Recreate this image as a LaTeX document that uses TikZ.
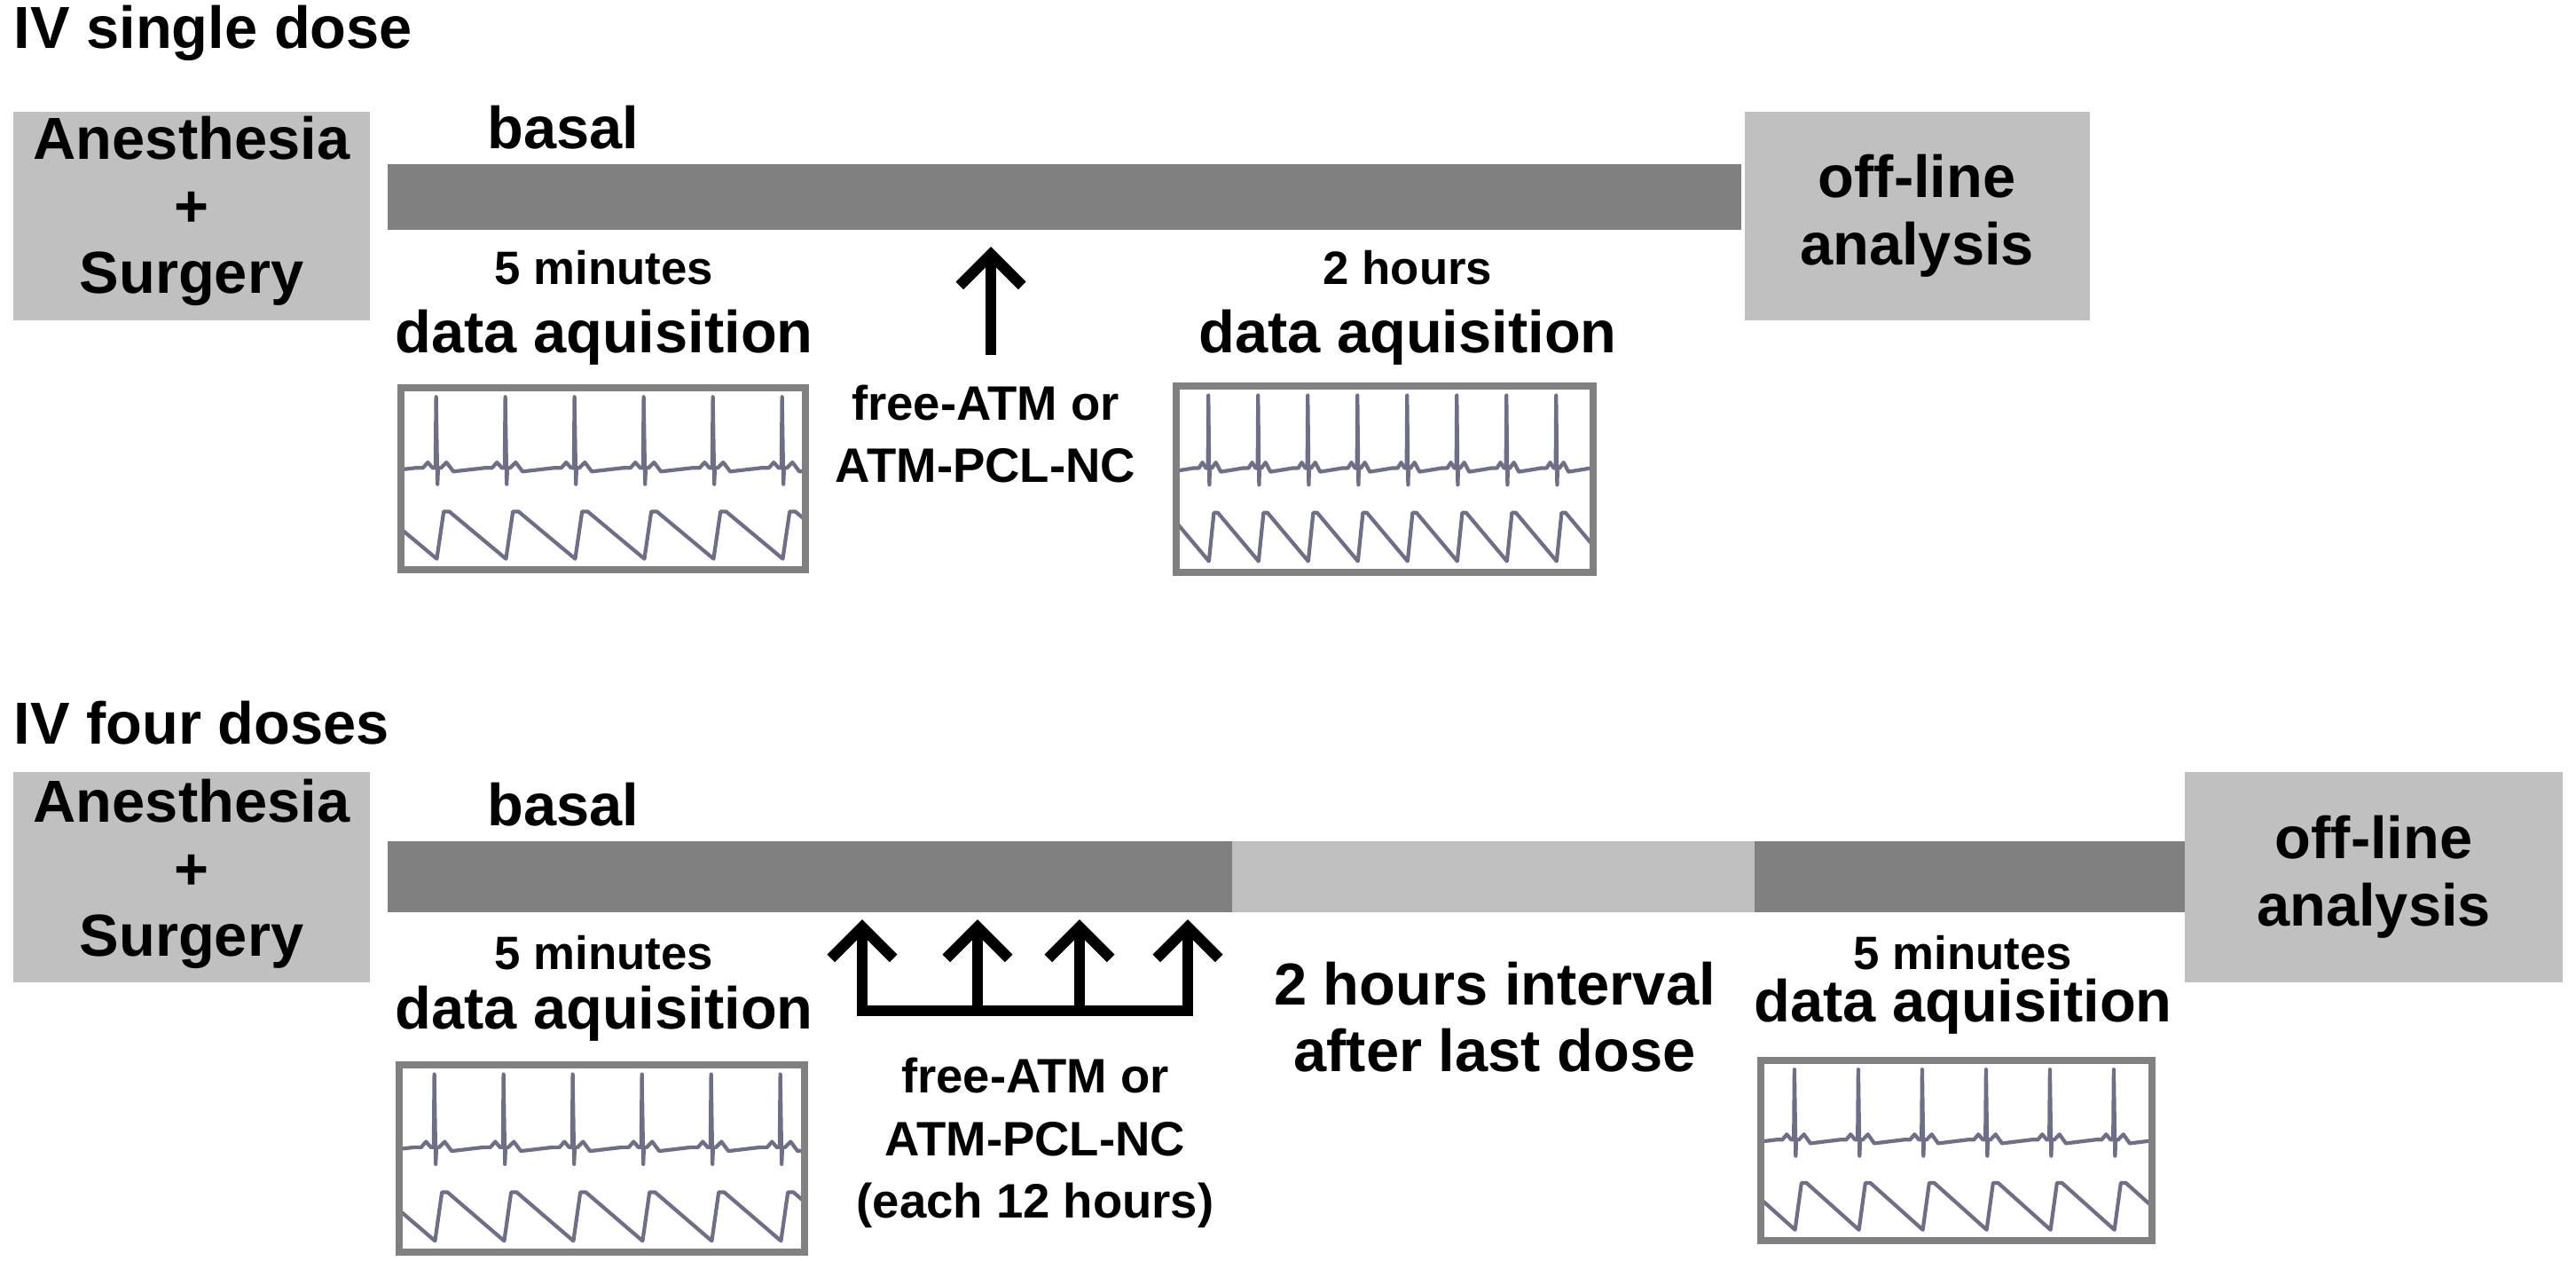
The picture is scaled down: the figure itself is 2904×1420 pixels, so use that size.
\documentclass[tikz,border=0pt]{standalone}
\usepackage{fontspec}
\setmainfont{Liberation Sans}
\usetikzlibrary{arrows.meta}
\definecolor{lg}{HTML}{C0C0C0}
\definecolor{dg}{HTML}{808080}
\definecolor{wv}{HTML}{6E6E84}
\newcommand\wavebox[7]{% x0 y0 w h period ecgoffset nbeats
\begin{scope}[shift={(#1,#2)}]
\begin{scope}
\clip (0,0) rectangle (#3,#4);
\draw[wv,line width=1.2pt,line join=round] (#6-#5,0.44*#4) \foreach \i in {0,...,#7}{
 -- ++(0.1*#5,0) -- ++(0.07*#5,-0.03*#4) -- ++(0.07*#5,0.03*#4) -- ++(0.04*#5,0)
 -- ++(0.01*#5,-0.39*#4) -- ++(0.02*#5,0.48*#4) -- ++(0.01*#5,-0.09*#4) -- ++(0.04*#5,0)
 -- ++(0.08*#5,-0.03*#4) -- ++(0.1*#5,0.05*#4) -- ++(0.46*#5,-0.02*#4)};
\draw[wv,line width=1.2pt,line join=round] (#6-#5+0.3*#5,0.94*#4) \foreach \i in {0,...,#7}{
 -- ++(0.1*#5,-0.26*#4) -- ++(0.08*#5,0) -- ++(0.82*#5,0.26*#4)};
\end{scope}
\draw[dg,line width=2.2pt] (0,0) rectangle (#3,#4);
\end{scope}}
\tikzset{
 gbox/.style={fill=lg,draw=none},
 big/.style={font=\fontsize{19}{21.5}\selectfont\bfseries,align=center,text=black},
 mid/.style={font=\fontsize{15.5}{20}\selectfont\bfseries,align=center,text=black},
 small/.style={font=\fontsize{15}{18}\selectfont\bfseries,align=center},
 arr/.style={line width=3.5pt,-{Straight Barb[length=10pt,width=20pt,line width=3.5pt]}}
}
\begin{document}
\begin{tikzpicture}[x=0.01cm,y=-0.01cm]
\useasboundingbox (0,0) rectangle (2904,1420);
% ---- top
\node[big,anchor=west,inner sep=0pt] (t1) at (15,37) {IV single dose};
\fill[gbox] (15,126) rectangle (417,361);
\node[big] (a1) at (216,238) {Anesthesia\\+\\Surgery};
\fill[dg] (437,185) rectangle (1963,259);
\node[big] (b1) at (635,144) {basal};
\fill[gbox] (1967,126) rectangle (2356,361);
\node[big] (o1) at (2161,243) {off-line\\analysis};
\node[small] (m1) at (681,302) {5 minutes};
\node[big] (d1) at (681,380) {data aquisition};
\node[small] (m2) at (1587,302) {2 hours};
\node[big] (d2) at (1587,380) {data aquisition};
\coordinate (ab) at (1117,400);
\coordinate (at) at (1117,278);
\draw[arr] (ab) -- (at);
\node[mid] (f1) at (1111,489) {free-ATM or\\ATM-PCL-NC};
\wavebox{452}{437}{456}{205}{78}{17}{7}
\wavebox{1326}{435}{470}{210}{56}{20}{9}
% ---- bottom
\node[big,anchor=west,inner sep=0pt] (t2) at (15,815) {IV four doses};
\fill[gbox] (15,870) rectangle (417,1107);
\node[big] (a2) at (216,985) {Anesthesia\\+\\Surgery};
\fill[dg] (437,948) rectangle (1389,1028);
\fill[lg] (1389,948) rectangle (1978,1028);
\fill[dg] (1978,948) rectangle (2463,1028);
\fill[gbox] (2463,870) rectangle (2889,1107);
\node[big] (o2) at (2676,988) {off-line\\analysis};
\node[big] (b2) at (635,907) {basal};
\node[small] (m3) at (681,1074) {5 minutes};
\node[big] (d3) at (681,1142) {data aquisition};
\coordinate (p1) at (972,1139);
\coordinate (p4) at (1339,1139);
\draw[line width=3.5pt] (p1) -- (p4);
\foreach \x in {972,1102,1217,1339}{
 \coordinate (q) at (\x,1139); \coordinate (r) at (\x,1036);
 \draw[arr] ([yshift=-1.75pt]q) -- (r);}
\node[mid] (f2) at (1167,1288) {free-ATM or\\ATM-PCL-NC\\(each 12 hours)};
\node[big] (h2) at (1685,1146) {2 hours interval\\after last dose};
\node[small] (m4) at (2213,1074) {5 minutes};
\node[big] (d4) at (2213,1134) {data aquisition};
\wavebox{450}{1200}{457}{211}{78}{17}{7}
\wavebox{1985}{1195}{441}{203}{72}{17}{7}
\end{tikzpicture}
\end{document}
